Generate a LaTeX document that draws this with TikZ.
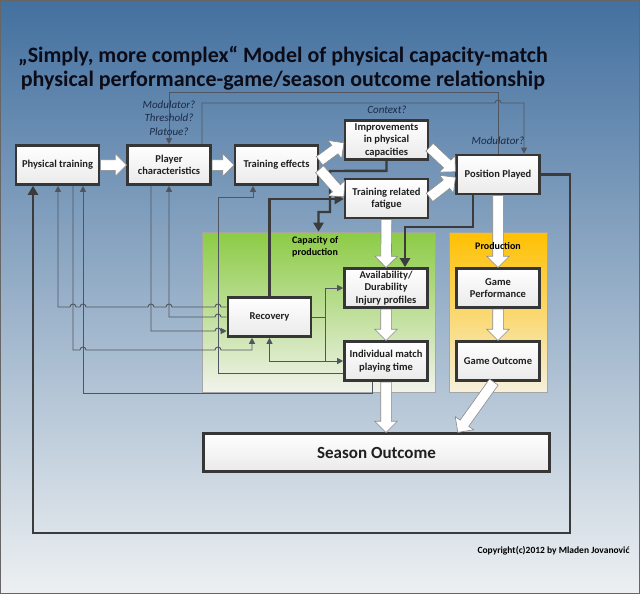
\documentclass[tikz,border=0pt]{standalone}
\usepackage{fontspec}
\setmainfont{Carlito}
\usepackage{tikz}
\usetikzlibrary{shapes,arrows.meta,positioning,calc,shadows}
\definecolor{bgtop}{HTML}{43709F}
\definecolor{bgmid}{HTML}{92AEC9}
\definecolor{bgbot}{HTML}{EDF0F2}
\definecolor{greentop}{HTML}{8CCB45}
\definecolor{greenmid}{HTML}{CBE5A6}
\definecolor{greenbot}{HTML}{F1F3EC}
\definecolor{orangetop}{HTML}{FFC000}
\definecolor{orangemid}{HTML}{FCD76E}
\definecolor{orangebot}{HTML}{F6F0DD}
\definecolor{boxedge}{HTML}{363636}
\definecolor{boxgray}{HTML}{EAEAEA}
\definecolor{darkline}{HTML}{3B3B3B}
\definecolor{linegray}{HTML}{4F5661}
\definecolor{arrowedge}{HTML}{8A8A8A}
\definecolor{notecol}{HTML}{1B2A44}
\definecolor{titlecol}{HTML}{0C0C18}

% small jump where a line crosses another one (lines drawn left to right)
\newcommand{\hop}[2]{-- ({#1-3},#2) arc[start angle=180,end angle=0,radius=3pt]}
% white block arrow between two points
\newcommand{\fatarrow}[3]{%
  \path let \p1=($(#3)-(#2)$), \n1={veclen(\x1,\y1)}, \n2={atan2(\y1,\x1)} in
    node[fatarr, minimum height=\n1, rotate=\n2] (#1) at (#2) {};}

\begin{document}
\begin{tikzpicture}[x=1pt,y=-1pt,
  box/.style={draw=boxedge, line width=2.6pt, top color=white, bottom color=boxgray,
    drop shadow={shadow xshift=1.2pt,shadow yshift=-1.2pt,opacity=0.35},
    font=\bfseries\fontsize{10.5}{12.5}\selectfont, text=black!88, align=center,
    minimum width=83pt, minimum height=39pt, inner sep=1pt},
  panel/.style={draw=black!35, line width=0.6pt, inner sep=0pt},
  note/.style={font=\itshape\fontsize{11}{13.5}\selectfont, text=notecol, align=center},
  link/.style={draw=linegray, line width=0.9pt, >={Triangle[length=6pt,width=6pt]}},
  feed/.style={draw=darkline, line width=2.4pt, >={Triangle[length=9pt,width=10pt]}},
  fatarr/.style={single arrow, draw=arrowedge, fill=white, line width=0.6pt,
    inner xsep=0pt, inner ysep=5pt, minimum width=0pt,
    single arrow head extend=6pt, anchor=tail}]

  \useasboundingbox (0,0) rectangle (640,594);
  % background
  \shade[top color=bgtop, middle color=bgmid, bottom color=bgbot] (0,0) rectangle (640,594);
  \draw[black!60, line width=1pt] (0.5,0.5) rectangle (639.5,593.5);

  % title
  \node[font=\bfseries\fontsize{22}{23.5}\selectfont, text=titlecol, align=center] (ttl) at (283,68)
    {„Simply, more complex“ Model of physical capacity-match\\physical performance-game/season outcome relationship};

  % panels
  \node[panel, top color=greentop, middle color=greenmid, bottom color=greenbot,
    minimum width=233pt, minimum height=160pt] (cap) at (318.5,312) {};
  \node[panel, top color=orangetop, middle color=orangemid, bottom color=orangebot,
    minimum width=98pt, minimum height=160pt] (prod) at (498,312) {};

  % boxes
  \node[box] (pt) at (57.5,165) {Physical training};
  \node[box] (pc) at (169,165) {Player\\characteristics};
  \node[box] (te) at (276.5,165) {Training effects};
  \node[box] (ipc) at (386.5,140) {Improvements\\in physical\\capacities};
  \node[box] (trf) at (386.5,198.5) {Training related\\fatigue};
  \node[box] (pp) at (498,174.5) {Position Played};
  \node[box] (rec) at (269.5,317) {Recovery};
  \node[box] (adi) at (386,288) {Availability/\\Durability\\Injury profiles};
  \node[box] (imp) at (386,361) {Individual match\\playing time};
  \node[box] (gp) at (498,288) {Game\\Performance};
  \node[box] (go) at (498,361) {Game Outcome};
  \node[box, minimum width=346pt, minimum height=38pt, font=\bfseries\fontsize{17}{20}\selectfont] (so) at (376.5,452.5) {Season Outcome};

  % thin feedback lines
  \draw[link,->] (pp.north) -- ++(0,-61) -| (pc.north);
  \draw[link,->] ([xshift=33pt]pc.north) -- (202,103) \hop{498}{103} -- (524,103) -- ([xshift=26pt]pp.north);
  \draw[link,<-] (pt.south -| 58,0) -- (58,307) \hop{73}{307} \hop{83}{307} \hop{151}{307} \hop{169}{307} \hop{218}{307} -- (rec.west |- 0,307);
  \draw[link,<-] (pc.south) -- (169,317) \hop{218}{317} -- (rec.west);
  \draw[link,->] (pc.south -| 151,0) -- (151,331) \hop{218}{331} -- (rec.west |- 0,331);
  \draw[link,->] (pt.south -| 73,0) -- (73,350) \hop{83}{350} \hop{218}{350} -- (252,350) -- (rec.south -| 252,0);
  \draw[link,->] (imp.west |- 0,373) -- (218,373) -- (218,197) -- (253,197) -- (te.south -| 253,0);
  \draw[link,->] (imp.south -| 372,0) -- (372,393) -- (83,393) -- (pt.south -| 83,0);
  \draw[link,->] (rec.east) -- (325,317) |- (adi.west);
  \draw[link,->] (325,317) |- (imp.west);
  \draw[link,<-] (rec.south) |- (325,361);

  % thick lines
  \draw[feed,->] (pp.east) -- (570,174.5) -- (570,533) -- (33,533) -- (pt.south -| 33,0);
  \draw[feed,->] (pp.south -| 473,0) -- (473,227) -- (405,227) -- (adi.north -| 405,0);
  \draw[feed,->] (ipc.south) -- ++(0,10) -- (330,171) -- (330,212) -- (318.5,212) -- (cap.north);
  \draw[feed,->] (rec.north) -- (269.5,199) -- (trf.west |- 0,199);

  % block arrows
  \fatarrow{fa1}{pt.east}{pc.west}
  \fatarrow{fa2}{pc.east}{te.west}
  \fatarrow{fa3}{[yshift=4pt]te.east}{[yshift=-3pt]ipc.west}
  \fatarrow{fa4}{[yshift=-4pt]te.east}{[yshift=2pt]trf.west}
  \fatarrow{fa5}{[yshift=-7pt]ipc.east}{[yshift=3pt]pp.west}
  \fatarrow{fa6}{[yshift=1pt]trf.east}{[yshift=-3pt]pp.west}
  \fatarrow{fa7}{trf.south}{adi.north}
  \fatarrow{fa8}{pp.south}{gp.north}
  \fatarrow{fa9}{adi.south}{imp.north}
  \fatarrow{fa10}{gp.south}{go.north}
  \fatarrow{fa11}{imp.south}{imp.south |- so.north}
  \fatarrow{fa12}{[xshift=-4pt]go.south}{[xshift=81.5pt]so.north}

  % panel labels and notes
  \node[font=\bfseries\fontsize{10}{12.5}\selectfont, align=left, anchor=north west, inner sep=0pt] (caplbl) at (292,236) {Capacity of\\production};
  \node[font=\bfseries\fontsize{10}{12}\selectfont] (prodlbl) at (498,246) {Production};
  \node[note] (mod1) at (169,118) {Modulator?\\Threshold?\\Platoue?};
  \node[note] (ctx) at (387,110) {Context?};
  \node[note] (mod2) at (498,141) {Modulator?};

  \node[font=\bfseries\fontsize{9.5}{11}\selectfont, anchor=east] (copy) at (633,551) {Copyright(c)2012 by Mladen Jovanović};
\end{tikzpicture}
\end{document}
